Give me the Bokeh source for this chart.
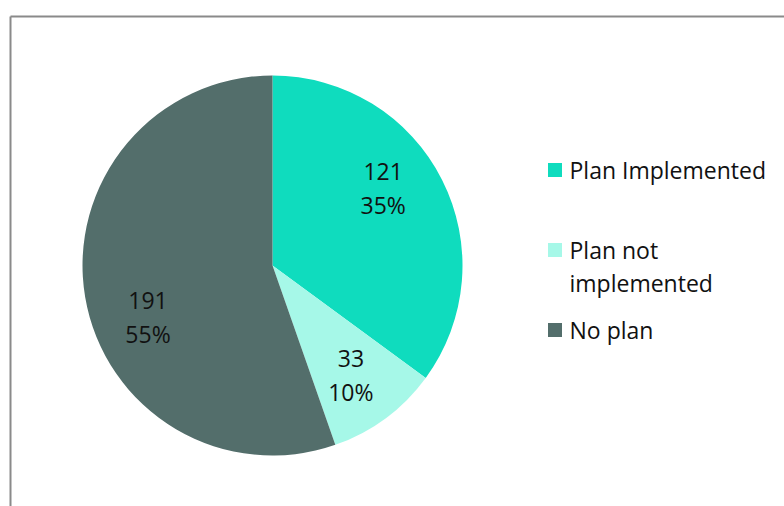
import numpy as np
from bokeh.plotting import figure
from bokeh.models import ColumnDataSource, Range1d
from bokeh.core.properties import value
from bokeh.embed import file_html
from bokeh.resources import INLINE

# ---- data ----
categories = ["Plan Implemented", "Plan not implemented", "No plan"]
legend_labels = ["Plan Implemented", "Plan not\nimplemented", "No plan"]
counts = [121, 33, 191]
colors = ["#0FDCBE", "#A6F8E8", "#536E6B"]

# ---- layout / style ----
W, H = 784, 506
FONT = "Open Sans"
FS = "23px"
CX, CY, R = 272, H - 265, 190
LABEL_R = 0.71 * R
label_nudge_deg = [8, -1, 13]
LINE_GAP = 33
LEG_MARK_X, LEG_TEXT_X = 554.5, 569
LEG_TOP, LEG_STEP = 169.5, 80

total = sum(counts)
frac = np.array(counts, dtype=float) / total
cum = np.concatenate([[0.0], np.cumsum(frac)])
start = np.pi / 2 - 2 * np.pi * cum[:-1]
end = np.pi / 2 - 2 * np.pi * cum[1:]

p = figure(width=W, height=H, x_range=Range1d(0, W), y_range=Range1d(0, H),
           output_backend="svg", toolbar_location=None, min_border=0)
p.axis.visible = False
p.grid.visible = False
p.outline_line_color = None
p.background_fill_color = "white"
p.border_fill_color = "white"

# chart-area frame (left and top edges visible)
p.segment(x0=[10, 10], y0=[H - 16, H - 16], x1=[10, W + 5], y1=[-5, H - 16],
          line_color="#8a8a8a", line_width=2)

src = ColumnDataSource(dict(cat=categories, count=counts, color=colors,
                            start=start, end=end))
p.wedge(x=CX, y=CY, radius=R, start_angle="start", end_angle="end",
        direction="clock", fill_color="color", line_color=None, source=src)

# data labels
mid = (start + end) / 2 + np.deg2rad(label_nudge_deg)
lx = CX + LABEL_R * np.cos(mid)
ly = CY + LABEL_R * np.sin(mid)
count_txt = [str(c) for c in counts]
pct_txt = [f"{round(f * 100)}%" for f in frac]
p.text(x=lx, y=ly + LINE_GAP / 2, text=count_txt, text_align="center",
       text_baseline="middle", text_font=value(FONT), text_font_size=FS,
       text_color="#111111")
p.text(x=lx, y=ly - LINE_GAP / 2, text=pct_txt, text_align="center",
       text_baseline="middle", text_font=value(FONT), text_font_size=FS,
       text_color="#111111")

# legend
row_y = [H - (LEG_TOP + i * LEG_STEP) for i in range(len(categories))]
p.scatter(x=[LEG_MARK_X] * len(categories), y=row_y, marker="square", size=14,
          fill_color=colors, line_color=None)
tx, ty, tt = [], [], []
for i, lab in enumerate(legend_labels):
    for j, line in enumerate(lab.split("\n")):
        tx.append(LEG_TEXT_X)
        ty.append(row_y[i] - j * LINE_GAP)
        tt.append(line)
p.text(x=tx, y=ty, text=tt, text_align="left", text_baseline="middle",
       text_font=value(FONT), text_font_size=FS, text_color="#111111")

open("out.html", "w").write(file_html(p, INLINE))
